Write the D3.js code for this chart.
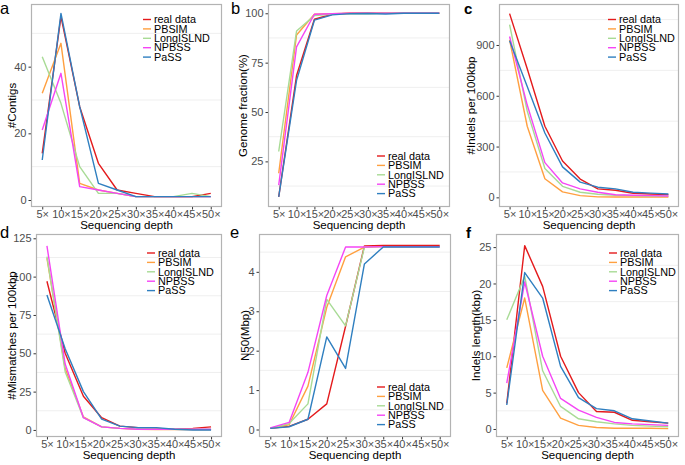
<!DOCTYPE html>
<html>
<head>
<meta charset="utf-8">
<script src="https://cdn.jsdelivr.net/npm/d3@7"></script>
<style>
  html, body { margin: 0; padding: 0; background: #fff; }
  svg { display: block; font-family: "Liberation Sans", Arial, sans-serif; }
</style>
</head>
<body>
<svg id="chart" width="685" height="465"></svg>
<script>
// ---------- data ----------
const depths = ["5×", "10×", "15×", "20×", "25×", "30×", "35×", "40×", "45×", "50×"];
const seriesNames = ["real data", "PBSIM", "LongISLND", "NPBSS", "PaSS"];
const seriesColors = ["#e41a1c", "#ffa040", "#a8db95", "#f545f5", "#2f7fc0"];

// a: #Contigs
const contigsReal  = [14, 55, 28, 11, 3, 2, 1, 1, 1, 2];
const contigsPBSIM = [32, 47, 5, 3, 2, 1, 1, 1, 1, 1];
const contigsLong  = [43, 29, 10, 2, 2, 1, 1, 1, 2, 1];
const contigsNPBSS = [21, 38, 4, 3, 2, 1, 1, 1, 1, 1];
const contigsPaSS  = [12, 56, 28, 5, 3, 1, 1, 1, 1, 1];
const contigsTicks = [0, 20, 40];

// b: Genome fraction (%)
const gfReal  = [7, 68.5, 97, 99.5, 100, 100, 100, 100, 100, 100];
const gfPBSIM = [19, 89, 99.5, 99.8, 100, 100, 100, 100, 100, 100];
const gfLong  = [30, 91, 98.8, 99.5, 99.8, 99.8, 100, 100, 100, 100];
const gfNPBSS = [13, 83, 99.5, 99.8, 100, 100, 100, 100, 100, 100];
const gfPaSS  = [7, 66, 96.5, 99.2, 99.8, 99.9, 99.6, 100, 100, 100];
const gfTicks = [25, 50, 75, 100];

// c: #Indels per 100kbp
const indReal  = [1085, 760, 420, 215, 108, 50, 42, 24, 20, 16];
const indPBSIM = [930, 420, 110, 32, 10, 3, 2, 2, 2, 2];
const indLong  = [1020, 510, 170, 65, 30, 18, 12, 10, 8, 7];
const indNPBSS = [950, 545, 205, 85, 50, 30, 15, 12, 10, 8];
const indPaSS  = [925, 655, 380, 180, 90, 60, 50, 30, 25, 20];
const indTicks = [0, 300, 600, 900];

// d: #Mismatches per 100kbp
const misReal  = [97, 50, 22, 8, 2.5, 1.5, 1, 0.5, 1, 2];
const misPBSIM = [112, 40, 8.5, 2, 1, 0.5, 0.3, 0.2, 0.2, 0.2];
const misLong  = [113, 38, 8, 2, 1, 0.8, 0.6, 0.5, 0.5, 0.5];
const misNPBSS = [120, 43, 8, 2, 1, 0.5, 0.5, 0.5, 0.5, 0.5];
const misPaSS  = [88, 53, 25, 7, 2.5, 1.5, 1.5, 0.5, 0, 0];
const misTicks = [0, 25, 50, 75, 100, 125];

// e: N50 (Mbp)
const n50Real  = [0.03, 0.08, 0.26, 0.65, 2.62, 4.66, 4.67, 4.67, 4.67, 4.67];
const n50PBSIM = [0.03, 0.12, 1.1, 3.1, 4.38, 4.63, 4.64, 4.64, 4.64, 4.64];
const n50Long  = [0.03, 0.15, 0.65, 3.3, 2.63, 4.63, 4.64, 4.64, 4.64, 4.64];
const n50NPBSS = [0.04, 0.18, 1.45, 3.4, 4.63, 4.63, 4.64, 4.64, 4.64, 4.64];
const n50PaSS  = [0.03, 0.07, 0.26, 2.35, 1.55, 4.2, 4.63, 4.63, 4.63, 4.63];
const n50Ticks = [0, 1, 2, 3, 4];

// f: Indels length (kbp)
const ilReal  = [3.5, 25.2, 19.6, 10, 5, 2.4, 2.3, 1.2, 1.0, 0.8];
const ilPBSIM = [8.4, 18, 5.3, 1.5, 0.5, 0.2, 0.1, 0.1, 0.1, 0.05];
const ilLong  = [15, 21, 8, 3.1, 1.4, 1.0, 0.7, 0.5, 0.4, 0.3];
const ilNPBSS = [6.3, 20.2, 10, 4.2, 2.6, 1.6, 0.9, 0.7, 0.6, 0.5];
const ilPaSS  = [3.3, 21.5, 18, 8.6, 4.3, 2.8, 2.5, 1.4, 1.1, 0.8];
const ilTicks = [0, 5, 10, 15, 20, 25];

// ---------- panels (layout) ----------
const panels = [
  { letter: "a", bold: false, lx: 0, ly: 14, x0: 31, x1: 222, y0: 4, y1: 207, dom: [-2.1, 58.8],
    ticks: contigsTicks, minor: [10, 30, 50], ytitle: "#Contigs", ytx: 12,
    series: [contigsReal, contigsPBSIM, contigsLong, contigsNPBSS, contigsPaSS],
    leg: { x: 143, y: 19.5 } },
  { letter: "b", bold: false, lx: 231, ly: 14, x0: 268, x1: 450, y0: 4, y1: 207, dom: [1.9, 104.7],
    ticks: gfTicks, minor: [12.5, 37.5, 62.5, 87.5], ytitle: "Genome fraction(%)", ytx: 243,
    series: [gfReal, gfPBSIM, gfLong, gfNPBSS, gfPaSS],
    leg: { x: 377, y: 156 } },
  { letter: "c", bold: true, lx: 464, ly: 14, x0: 499, x1: 679, y0: 4, y1: 207, dom: [-57, 1142],
    ticks: indTicks, minor: [150, 450, 750, 1050], ytitle: "#Indels per 100kbp", ytx: 471,
    series: [indReal, indPBSIM, indLong, indNPBSS, indPaSS],
    leg: { x: 608, y: 19.5 } },
  { letter: "d", bold: false, lx: 0, ly: 238, x0: 36, x1: 222, y0: 234, y1: 437, dom: [-4.6, 127.8],
    ticks: misTicks, minor: [12.5, 37.5, 62.5, 87.5, 112.5], ytitle: "#Mismatches per 100kbp", ytx: 12,
    series: [misReal, misPBSIM, misLong, misNPBSS, misPaSS],
    leg: { x: 147, y: 253 } },
  { letter: "e", bold: false, lx: 230, ly: 238, x0: 259, x1: 451, y0: 234, y1: 437, dom: [-0.19, 4.96],
    ticks: n50Ticks, minor: [0.5, 1.5, 2.5, 3.5, 4.5], ytitle: "N50(Mbp)", ytx: 245,
    series: [n50Real, n50PBSIM, n50Long, n50NPBSS, n50PaSS],
    leg: { x: 377, y: 387 } },
  { letter: "f", bold: true, lx: 466, ly: 238, x0: 496, x1: 679, y0: 234, y1: 437, dom: [-1.1, 26.8],
    ticks: ilTicks, minor: [2.5, 7.5, 12.5, 17.5, 22.5], ytitle: "Indels length(kbp)", ytx: 476,
    series: [ilReal, ilPBSIM, ilLong, ilNPBSS, ilPaSS],
    leg: { x: 609, y: 253 } }
];

const svg = d3.select("#chart");

panels.forEach(p => {
  const g = svg.append("g");
  const x = d3.scalePoint().domain(depths).range([p.x0, p.x1]).padding(0.6);
  const y = d3.scaleLinear().domain(p.dom).range([p.y1, p.y0]);

  // minor grid
  g.append("g").selectAll("line").data(p.minor).join("line")
    .attr("x1", p.x0).attr("x2", p.x1)
    .attr("y1", d => y(d)).attr("y2", d => y(d))
    .attr("stroke", "#efefef").attr("stroke-width", 1);

  // y axis
  const ya = g.append("g").attr("transform", `translate(${p.x0},0)`)
    .call(d3.axisLeft(y).tickValues(p.ticks).tickSize(2.5).tickPadding(2).tickFormat(d3.format("")));
  ya.select(".domain").remove();
  ya.selectAll(".tick line").attr("stroke", "#333");
  ya.selectAll(".tick text").attr("fill", "#4d4d4d").attr("font-size", "11px")
    .attr("font-family", "Liberation Sans, Arial, sans-serif");

  // x axis
  const xa = g.append("g").attr("transform", `translate(0,${p.y1})`)
    .call(d3.axisBottom(x).tickSize(2.5).tickPadding(0.5));
  xa.select(".domain").remove();
  xa.selectAll(".tick line").attr("stroke", "#333");
  xa.selectAll(".tick text").attr("fill", "#4d4d4d").attr("font-size", "11px")
    .attr("font-family", "Liberation Sans, Arial, sans-serif");

  // lines
  const line = d3.line().x((d, i) => x(depths[i])).y(d => y(d));
  p.series.forEach((s, k) => {
    g.append("path").datum(s)
      .attr("d", line)
      .attr("fill", "none")
      .attr("stroke", seriesColors[k])
      .attr("stroke-width", 1.4)
      .attr("stroke-linejoin", "round");
  });

  // border
  g.append("rect")
    .attr("x", p.x0 + 0.5).attr("y", p.y0 + 0.5)
    .attr("width", p.x1 - p.x0 - 1).attr("height", p.y1 - p.y0 - 1)
    .attr("fill", "none").attr("stroke", "#b3b3b3").attr("stroke-width", 1.2);

  // axis titles
  g.append("text")
    .attr("x", (p.x0 + p.x1) / 2).attr("y", p.y1 + 22)
    .attr("text-anchor", "middle").attr("font-size", "11.5px").attr("fill", "#000")
    .text("Sequencing depth");
  g.append("text")
    .attr("transform", `translate(${p.ytx},${(p.y0 + p.y1) / 2}) rotate(-90)`)
    .attr("dy", "0.35em")
    .attr("text-anchor", "middle").attr("font-size", "11.5px").attr("fill", "#000")
    .text(p.ytitle);

  // legend
  const lg = g.append("g");
  seriesNames.forEach((n, k) => {
    const yy = p.leg.y + k * 9.4;
    lg.append("line").attr("x1", p.leg.x).attr("x2", p.leg.x + 8)
      .attr("y1", yy).attr("y2", yy)
      .attr("stroke", seriesColors[k]).attr("stroke-width", 1.4);
    lg.append("text").attr("x", p.leg.x + 11).attr("y", yy).attr("dy", "0.35em")
      .attr("font-size", "10.8px").attr("fill", "#000").text(n);
  });

  // panel letter
  svg.append("text").attr("x", p.lx).attr("y", p.ly)
    .attr("font-size", p.bold ? "15px" : "16.5px")
    .attr("font-weight", p.bold ? "bold" : "normal")
    .attr("fill", "#000").text(p.letter);
});
</script>
</body>
</html>
